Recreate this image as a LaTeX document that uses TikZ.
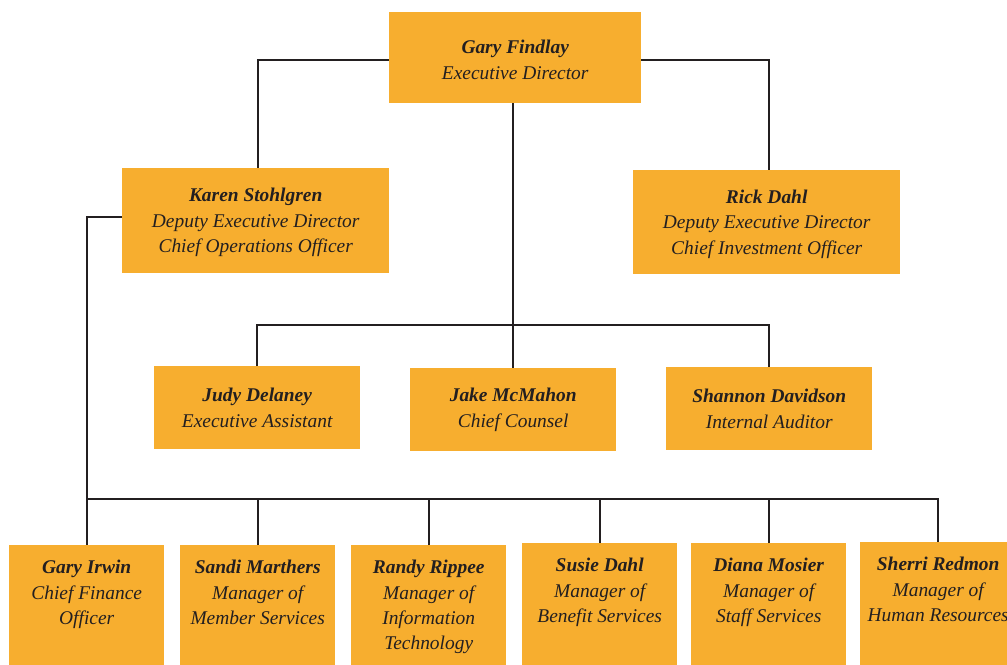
\documentclass[tikz,border=0pt]{standalone}
\usepackage{fontspec}
\setmainfont{Liberation Serif}
\definecolor{boxfill}{HTML}{F7AE2F}
\definecolor{ink}{HTML}{231F20}
\begin{document}
\begin{tikzpicture}[x=1bp,y=-1bp,
  box/.style={fill=boxfill, draw=none, inner sep=0pt, anchor=north west},
  bigbox/.style={box, minimum width=267bp, minimum height=105bp},
  midbox/.style={box, minimum width=206bp, minimum height=83bp},
  lowbox/.style={box, minimum width=155bp, minimum height=125bp},
  txt/.style={align=center, font=\fontsize{19.5}{25.5}\selectfont\itshape, text=ink, inner sep=0pt},
  lowtxt/.style={txt, anchor=north, yshift=-15bp},
  link/.style={draw=ink, line width=1.8bp}]
\useasboundingbox (0,0) rectangle (1007,665);
% boxes
\node[box, minimum width=252bp, minimum height=91bp] (gf) at (389,12) {};
\node[bigbox] (ks) at (122,168) {};
\node[bigbox, minimum height=104bp] (rd) at (633,170) {};
\node[midbox] (jd) at (154,366) {};
\node[midbox] (jm) at (410,368) {};
\node[midbox] (sd) at (666,367) {};
\node[lowbox] (gi) at (9,545) {};
\node[lowbox] (sm) at (180,545) {};
\node[lowbox] (rr) at (351,545) {};
\node[lowbox] (su) at (522,543) {};
\node[lowbox] (dm) at (691,543) {};
\node[lowbox, minimum width=156bp] (sr) at (860,542) {};
% texts
\node[txt, yshift=-2bp] (gft) at (gf.center) {\textbf{Gary Findlay}\\Executive Director};
\node[txt, yshift=-2bp] (kst) at (ks.center) {\textbf{Karen Stohlgren}\\Deputy Executive Director\\Chief Operations Officer};
\node[txt, yshift=-2bp] (rdt) at (rd.center) {\textbf{Rick Dahl}\\Deputy Executive Director\\Chief Investment Officer};
\node[txt] (jdt) at (jd.center) {\textbf{Judy Delaney}\\Executive Assistant};
\node[txt] (jmt) at (jm.center) {\textbf{Jake McMahon}\\Chief Counsel};
\node[txt] (sdt) at (sd.center) {\textbf{Shannon Davidson}\\Internal Auditor};
\node[lowtxt] (git) at (gi.north) {\textbf{Gary Irwin}\\Chief Finance\\Officer};
\node[lowtxt] (smt) at (sm.north) {\textbf{Sandi Marthers}\\Manager of\\Member Services};
\node[lowtxt] (rrt) at (rr.north) {\textbf{Randy Rippee}\\Manager of\\Information\\Technology};
\node[lowtxt] (sut) at (su.north) {\textbf{Susie Dahl}\\Manager of\\Benefit Services};
\node[lowtxt] (dmt) at (dm.north) {\textbf{Diana Mosier}\\Manager of\\Staff Services};
\node[lowtxt] (srt) at (sr.north) {\textbf{Sherri Redmon}\\Manager of\\Human Resources};
% connectors
\coordinate (bus1) at (0,325);
\coordinate (bus2) at (0,499);
\draw[link] ([yshift=-2.5bp]gf.west) -| ([xshift=2.5bp]ks.north);
\draw[link] ([yshift=-2.5bp]gf.east) -| ([xshift=2.5bp]rd.north);
\draw[link] (jm.north |- gf.south) -- (jm.north);
\draw[link] (jd.north) -- (jd.north |- bus1) -| (sd.north);
\draw[link] ([yshift=3.5bp]ks.west) -| (gi.north);
\draw[link] (gi.north |- bus2) -| (sr.north);
\draw[link] (sm.north) -- (sm.north |- bus2);
\draw[link] (rr.north) -- (rr.north |- bus2);
\draw[link] (su.north) -- (su.north |- bus2);
\draw[link] (dm.north) -- (dm.north |- bus2);
\end{tikzpicture}
\end{document}
